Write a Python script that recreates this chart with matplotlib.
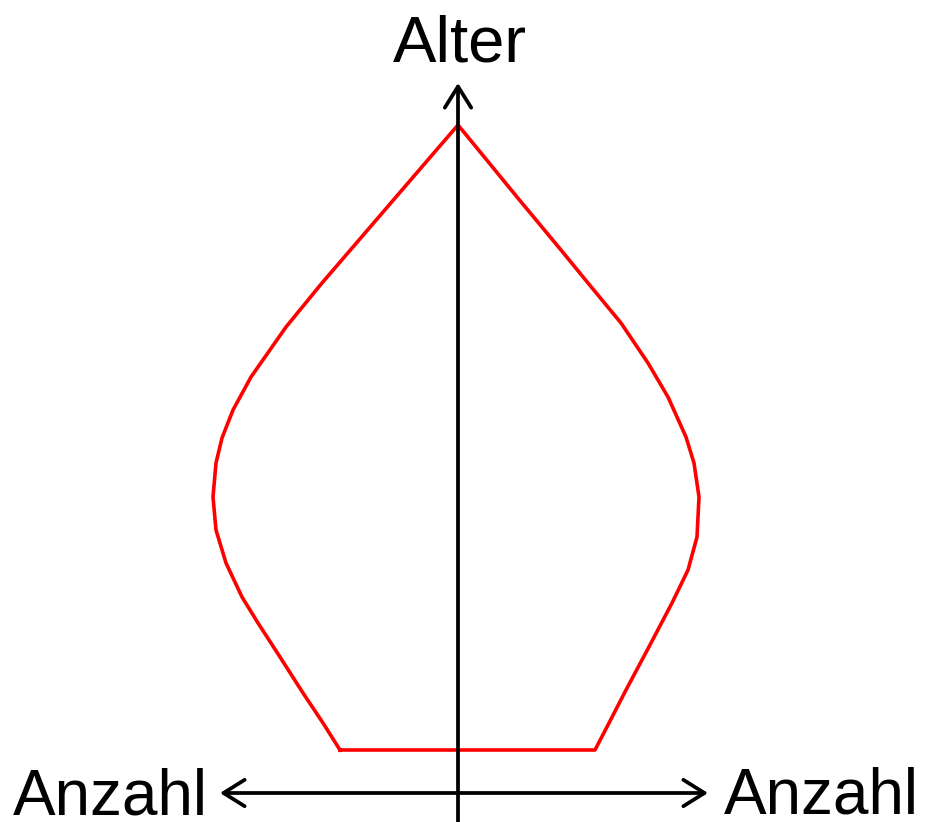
import matplotlib
matplotlib.use("Agg")
import matplotlib.pyplot as plt

# age pyramid outline (age in arbitrary units, count = half width)
age_left = [0, 27, 57, 93, 127, 153, 187, 220, 253, 287, 312, 340, 373, 423, 467, 510, 560, 603, 625]
count_left = [118, 135, 155, 178, 200, 216, 232, 242, 245, 242, 236, 225, 207, 172, 136, 99, 56, 19, 0]
age_right = [625, 597, 553, 500, 467, 427, 387, 353, 313, 287, 253, 213, 180, 147, 107, 60, 27, 0]
count_right = [0, 23, 59, 103, 130, 163, 190, 210, 228, 236, 241, 239, 230, 214, 193, 168, 151, 137]

axis_label_y = "Alter"
axis_label_x = "Anzahl"

plt.rcParams["font.family"] = ["Liberation Sans", "DejaVu Sans"]

fig = plt.figure(figsize=(9.26, 8.22), dpi=100)
ax = fig.add_axes([0, 0, 1, 1])
ax.set_xlim(-458, 468)
ax.set_ylim(-72, 750)
ax.axis("off")

# outline: left side up, right side down, closing along the bottom
xs = [-c for c in count_left] + count_right + [-count_left[0]]
ys = age_left + age_right + [age_left[0]]
ax.plot(xs, ys, color="#ff0000", lw=2.6, solid_joinstyle="round", zorder=2)

arrow = dict(arrowstyle="->,head_length=0.4,head_width=0.25", color="black",
             lw=2.7, mutation_scale=38, shrinkA=0, shrinkB=0)
# vertical axis
ax.annotate("", xy=(0, 667), xytext=(0, -72), arrowprops=arrow, zorder=3)
# horizontal axis, both directions
arrow2 = dict(arrow, arrowstyle="<->,head_length=0.4,head_width=0.25")
ax.annotate("", xy=(250, -43), xytext=(-238, -43), arrowprops=arrow2, zorder=3)

ax.text(2, 688, axis_label_y, fontsize=47, ha="center", va="baseline")
ax.text(-250, -64, axis_label_x, fontsize=46, ha="right", va="baseline")
ax.text(266, -63, axis_label_x, fontsize=46, ha="left", va="baseline")

fig.savefig("out.png", dpi=100)
